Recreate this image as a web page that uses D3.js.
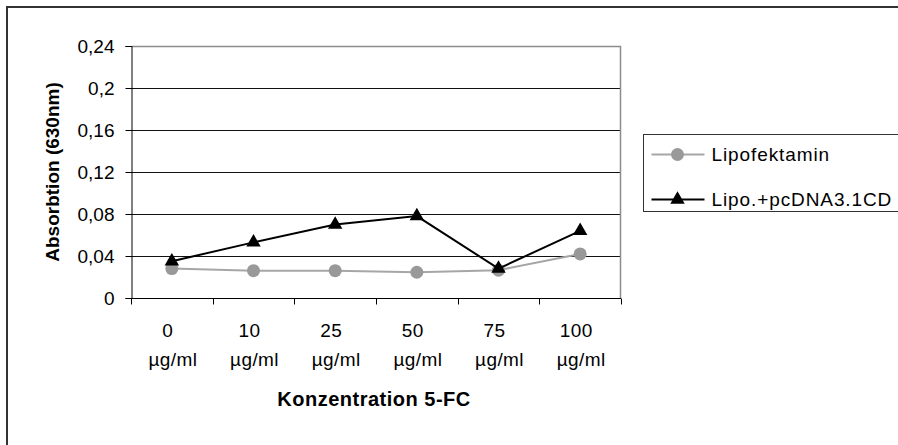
<!DOCTYPE html>
<html>
<head>
<meta charset="utf-8">
<script src="https://cdn.jsdelivr.net/npm/d3@7"></script>
<style>
  body { margin: 0; background: #fff; }
  svg { font-family: "Liberation Sans", Arial, sans-serif; }
</style>
</head>
<body>
<svg id="chart" width="898" height="445"></svg>
<script>
// chart values
var doses = ["0", "10", "25", "50", "75", "100"];
var unitLabel = "µg/ml";
var lipofektamin = [0.028, 0.026, 0.026, 0.0245, 0.0265, 0.042];
var lipoCD = [0.035, 0.053, 0.070, 0.078, 0.028, 0.064];
var yTicks = [0, 0.04, 0.08, 0.12, 0.16, 0.2, 0.24];
var seriesNames = ["Lipofektamin", "Lipo.+pcDNA3.1CD"];

var svg = d3.select("#chart");
var margins = {left: 131, right: 277, top: 46, bottom: 147};
var width = 898 - margins.left - margins.right;
var height = 445 - margins.top - margins.bottom;
var fontSize = 19;

// outer chart frame (right and bottom edges fall outside the picture)
svg.append("rect")
  .attr("x", 7).attr("y", 7)
  .attr("width", 1000).attr("height", 1000)
  .attr("fill", "none")
  .attr("stroke", "#333")
  .attr("stroke-width", 2);

var g = svg.append("g")
  .attr("transform", "translate(" + margins.left + "," + margins.top + ")");

var xScale = d3.scaleBand()
  .domain(doses)
  .range([0, width]);

var yScale = d3.scaleLinear()
  .domain([0, 0.24])
  .range([height, 0]);

// gridlines
g.selectAll(".grid")
  .data(yTicks.slice(1))
  .enter().append("line")
  .attr("class", "grid")
  .attr("x1", 0).attr("x2", width)
  .attr("y1", d => Math.round(yScale(d)) + 0.5)
  .attr("y2", d => Math.round(yScale(d)) + 0.5)
  .attr("stroke", "#111")
  .attr("stroke-width", 1);

// plot area frame (gray)
g.append("path")
  .attr("d", "M0.5," + 0.5 + "H" + (width - 0.5) + "V" + height)
  .attr("fill", "none")
  .attr("stroke", "#8c8c8c")
  .attr("stroke-width", 1.5);

// y axis
var yAxis = g.append("g")
  .attr("transform", "translate(0.5,0)")
  .call(d3.axisLeft(yScale).tickValues(yTicks).tickSize(6).tickPadding(11)
    .tickFormat(d => d3.format("~g")(d).replace(".", ",")));

// x axis, ticks on the category boundaries
var bounds = doses.map((d) => xScale(d)).concat([width]);
var xAxis = g.append("g")
  .attr("transform", "translate(0," + (height + 0.5) + ")");
xAxis.append("line")
  .attr("x1", 0).attr("x2", width)
  .attr("stroke", "#000");
xAxis.selectAll(".xtick")
  .data(bounds)
  .enter().append("line")
  .attr("class", "xtick")
  .attr("x1", d => Math.round(d) + 0.5).attr("x2", d => Math.round(d) + 0.5)
  .attr("y1", 0).attr("y2", 6)
  .attr("stroke", "#000");

var labels = xAxis.selectAll(".xlab")
  .data(doses)
  .enter().append("text")
  .attr("class", "xlab")
  .attr("text-anchor", "middle")
  .attr("font-size", fontSize)
  .attr("letter-spacing", 0.4)
  .attr("fill", "#000");
labels.append("tspan")
  .attr("x", d => xScale(d) + xScale.bandwidth() / 2 - 4)
  .attr("y", 38)
  .text(d => d);
labels.append("tspan")
  .attr("x", d => xScale(d) + xScale.bandwidth() / 2 + 1)
  .attr("y", 67)
  .text(unitLabel);

yAxis.select(".domain").attr("stroke", "#000");
yAxis.selectAll(".tick line").attr("stroke", "#000");
yAxis.selectAll("text").attr("font-size", fontSize).attr("fill", "#000")
  .attr("font-family", "Liberation Sans, Arial, sans-serif");

// axis titles
g.append("text")
  .attr("x", width / 2 - 2)
  .attr("y", height + 108)
  .attr("text-anchor", "middle")
  .attr("font-size", 20)
  .attr("letter-spacing", 0.5)
  .attr("font-weight", "bold")
  .text("Konzentration 5-FC");

svg.append("text")
  .attr("transform", "translate(59," + (margins.top + height / 2) + ") rotate(-90)")
  .attr("text-anchor", "middle")
  .attr("font-size", fontSize)
  .attr("font-weight", "bold")
  .text("Absorbtion (630nm)");

// lines
var line = d3.line()
  .x((d, i) => xScale(doses[i]) + xScale.bandwidth() / 2)
  .y(d => yScale(d));

var triangle = d3.symbol().type(d3.symbolTriangle).size(90);

g.append("path")
  .attr("d", line(lipofektamin))
  .attr("fill", "none")
  .attr("stroke", "#a6a6a6")
  .attr("stroke-width", 2);

g.selectAll(".circ")
  .data(lipofektamin)
  .enter().append("circle")
  .attr("class", "circ")
  .attr("cx", (d, i) => xScale(doses[i]) + xScale.bandwidth() / 2)
  .attr("cy", d => yScale(d))
  .attr("r", 6.5)
  .attr("fill", "#999");

g.append("path")
  .attr("d", line(lipoCD))
  .attr("fill", "none")
  .attr("stroke", "#000")
  .attr("stroke-width", 2);

g.selectAll(".tri")
  .data(lipoCD)
  .enter().append("path")
  .attr("class", "tri")
  .attr("d", triangle)
  .attr("transform", (d, i) => "translate(" + (xScale(doses[i]) + xScale.bandwidth() / 2) + "," + yScale(d) + ")")
  .attr("fill", "#000");

// legend
var legend = svg.append("g").attr("transform", "translate(643.5,134.5)");
legend.append("rect")
  .attr("width", 400).attr("height", 77)
  .attr("fill", "#fff")
  .attr("stroke", "#333")
  .attr("stroke-width", 1);

var rows = legend.selectAll(".lrow")
  .data(seriesNames)
  .enter().append("g")
  .attr("class", "lrow")
  .attr("transform", (d, i) => "translate(0," + (20 + i * 45) + ")");

rows.append("line")
  .attr("x1", 8).attr("x2", 61)
  .attr("stroke", (d, i) => i == 0 ? "#a6a6a6" : "#000")
  .attr("stroke-width", 2);

rows.filter((d, i) => i == 0).append("circle")
  .attr("cx", 34).attr("r", 6.5).attr("fill", "#999");
rows.filter((d, i) => i == 1).append("path")
  .attr("d", triangle)
  .attr("transform", "translate(34,0)")
  .attr("fill", "#000");

rows.append("text")
  .attr("x", 68)
  .attr("y", 6)
  .attr("font-size", fontSize)
  .attr("letter-spacing", 0.9)
  .attr("fill", "#000")
  .text(d => d);
</script>
</body>
</html>
